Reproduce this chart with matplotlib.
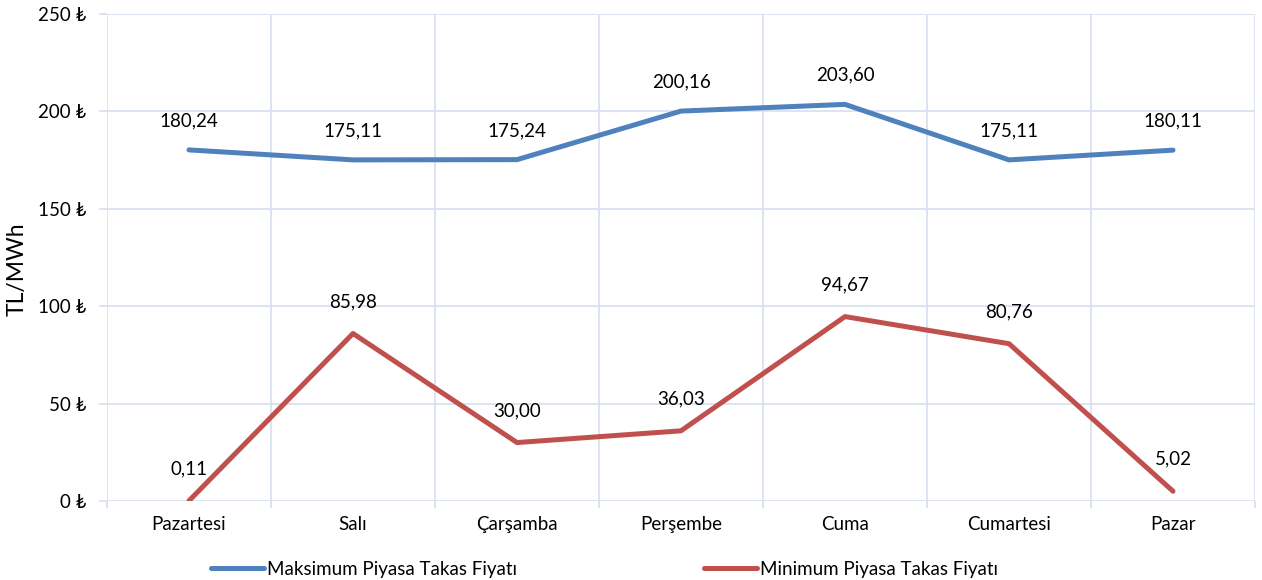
import matplotlib
matplotlib.use("Agg")
import matplotlib.pyplot as plt
from matplotlib.lines import Line2D

plt.rcParams['font.family'] = ['Lato', 'DejaVu Sans']

days = ["Pazartesi", "Salı", "Çarşamba", "Perşembe", "Cuma", "Cumartesi", "Pazar"]
max_prices = [180.24, 175.11, 175.24, 200.16, 203.60, 175.11, 180.11]
min_prices = [0.11, 85.98, 30.00, 36.03, 94.67, 80.76, 5.02]
max_label = "Maksimum Piyasa Takas Fiyatı"
min_label = "Minimum Piyasa Takas Fiyatı"
yticks = [0, 50, 100, 150, 200, 250]

blue = "#4F81BD"
red = "#C0504D"
grid = "#D9E2F1"
fs = 13.5

fig = plt.figure(figsize=(12.62, 5.8), dpi=100)
ax = fig.add_axes([107/1262, 1-501/580, (1255-107)/1262, (501-14)/580])

x = list(range(len(days)))
ax.plot(x, max_prices, color=blue, lw=3.6, solid_capstyle="round", label=max_label)
ax.plot(x, min_prices, color=red, lw=3.6, solid_capstyle="round", label=min_label)

def fmt(v):
    return f"{v:.2f}".replace(".", ",")

for xi, v in zip(x, max_prices):
    ax.annotate(fmt(v), (xi, v), xytext=(0, 21), textcoords="offset points",
                ha="center", va="center", fontsize=fs, color="black")
for xi, v in zip(x, min_prices):
    ax.annotate(fmt(v), (xi, v), xytext=(0, 23), textcoords="offset points",
                ha="center", va="center", fontsize=fs, color="black")

ax.set_xlim(-0.5, len(days) - 0.5)
ax.set_ylim(0, 250)
ax.set_yticks(yticks)
ax.set_yticklabels([f"{t} ₺" for t in yticks], fontsize=fs)
ax.set_xticks(x)
ax.set_xticklabels(days, fontsize=fs)
ax.set_xticks([i - 0.5 for i in range(len(days) + 1)], minor=True)
ax.tick_params(axis="x", which="major", length=0, pad=11)
ax.tick_params(axis="x", which="minor", length=5, color=grid, width=1.3)
ax.tick_params(axis="y", length=6, color=grid, width=1.3, pad=9)
ax.grid(True, axis="y", color=grid, lw=1.3)
ax.grid(True, axis="x", which="minor", color=grid, lw=1.3)
for s in ax.spines.values():
    s.set_visible(False)
ax.set_axisbelow(True)
ax.set_ylabel("TL/MWh", fontsize=16.5)
ax.yaxis.set_label_coords(-0.0688, 0.476)

handles = [Line2D([], [], color=blue, lw=3.6, solid_capstyle="round"),
           Line2D([], [], color=red, lw=3.6, solid_capstyle="round")]
fig.legend(handles, [max_label, min_label], loc="center", bbox_to_anchor=(0.479, 0.018),
           ncol=2, frameon=False, fontsize=fs, handlelength=2.8, handletextpad=0.15,
           columnspacing=10.0)

fig.savefig("out.png", dpi=100)
